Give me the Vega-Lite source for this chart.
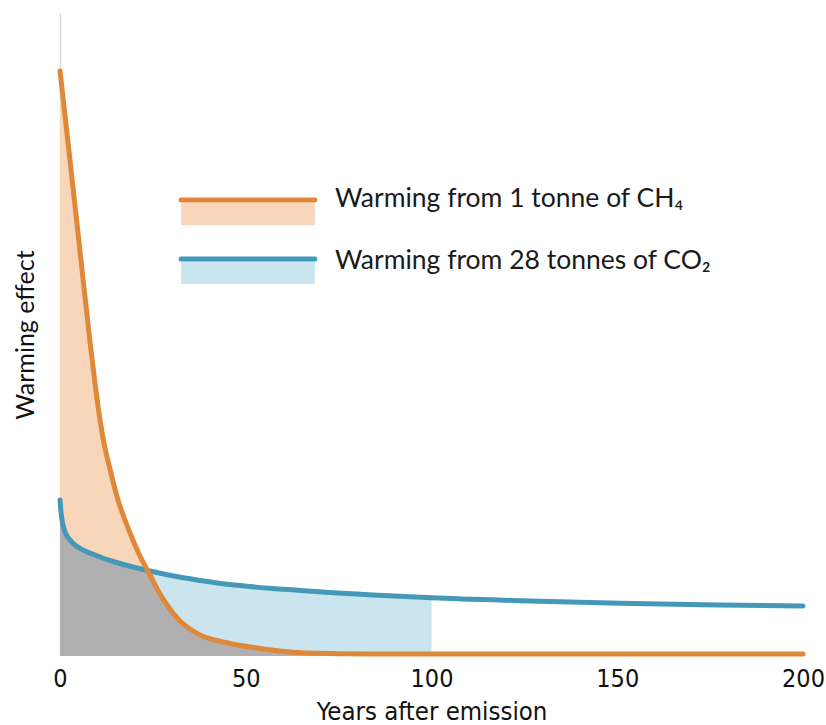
{
  "$schema": "https://vega.github.io/schema/vega-lite/v6.json",
  "width": 743,
  "height": 643,
  "autosize": {"type": "none"},
  "padding": {"left": 60, "top": 13, "right": 23, "bottom": 69},
  "background": "white",
  "config": {"view": {"stroke": null}, "font": "Lato"},
  "datasets": {
    "ch4": [
      {"year": 0, "value": 90.98},
      {"year": 2.69, "value": 77.14},
      {"year": 5.38, "value": 62.98},
      {"year": 8.08, "value": 48.83},
      {"year": 9.42, "value": 42.46},
      {"year": 10.77, "value": 36.7},
      {"year": 12.11, "value": 32.35},
      {"year": 13.46, "value": 29.08},
      {"year": 15.61, "value": 24.26},
      {"year": 17.5, "value": 21.15},
      {"year": 18.84, "value": 19.13},
      {"year": 21.53, "value": 15.55},
      {"year": 24.23, "value": 12.6},
      {"year": 26.92, "value": 9.64},
      {"year": 29.61, "value": 7.31},
      {"year": 32.3, "value": 5.44},
      {"year": 34.99, "value": 4.2},
      {"year": 37.69, "value": 3.27},
      {"year": 43.88, "value": 2.18},
      {"year": 53.03, "value": 1.24},
      {"year": 66.48, "value": 0.47},
      {"year": 84.25, "value": 0.31},
      {"year": 100, "value": 0.31},
      {"year": 200, "value": 0.31}
    ],
    "co2": [
      {"year": 0, "value": 24.26},
      {"year": 0.27, "value": 22.39},
      {"year": 0.54, "value": 21.15},
      {"year": 1.08, "value": 19.75},
      {"year": 1.88, "value": 18.66},
      {"year": 2.69, "value": 18.04},
      {"year": 4.04, "value": 17.26},
      {"year": 6.19, "value": 16.49},
      {"year": 8.08, "value": 16.02},
      {"year": 10.77, "value": 15.4},
      {"year": 14.8, "value": 14.62},
      {"year": 19.65, "value": 13.84},
      {"year": 24.23, "value": 13.22},
      {"year": 29.61, "value": 12.55},
      {"year": 37.69, "value": 11.75},
      {"year": 48.45, "value": 10.95},
      {"year": 64.6, "value": 10.2},
      {"year": 84.25, "value": 9.5},
      {"year": 100, "value": 9.05},
      {"year": 123.8, "value": 8.6},
      {"year": 150.7, "value": 8.2},
      {"year": 177.7, "value": 7.95},
      {"year": 200, "value": 7.78}
    ],
    "both": [
      {"year": 0, "value": 24.26},
      {"year": 0.27, "value": 22.39},
      {"year": 0.54, "value": 21.15},
      {"year": 1.08, "value": 19.75},
      {"year": 1.88, "value": 18.66},
      {"year": 2.69, "value": 18.04},
      {"year": 4.04, "value": 17.26},
      {"year": 6.19, "value": 16.49},
      {"year": 8.08, "value": 16.02},
      {"year": 10.77, "value": 15.4},
      {"year": 14.8, "value": 14.62},
      {"year": 19.65, "value": 13.84},
      {"year": 23.6, "value": 13.35},
      {"year": 24.23, "value": 12.6},
      {"year": 26.92, "value": 9.64},
      {"year": 29.61, "value": 7.31},
      {"year": 32.3, "value": 5.44},
      {"year": 34.99, "value": 4.2},
      {"year": 37.69, "value": 3.27},
      {"year": 43.88, "value": 2.18},
      {"year": 53.03, "value": 1.24},
      {"year": 66.48, "value": 0.47},
      {"year": 84.25, "value": 0.31},
      {"year": 100, "value": 0.31}
    ]
  },
  "layer": [
    {
      "data": {"name": "ch4"},
      "transform": [{"filter": "datum.year <= 40"}],
      "mark": {"type": "area", "color": "#f7d6b9", "interpolate": "monotone"},
      "encoding": {
        "x": {
          "field": "year", "type": "quantitative",
          "scale": {"domain": [0, 200], "nice": false},
          "axis": {
            "title": "Years after emission", "values": [0, 50, 100, 150, 200],
            "domain": false, "ticks": false, "grid": false, "labelFlush": false,
            "labelFont": "DejaVu Sans Condensed, Roboto, sans-serif", "labelFontSize": 25, "labelColor": "#111111", "labelPadding": 10,
            "titleFont": "DejaVu Sans Condensed, Roboto, sans-serif", "titleFontSize": 25.5, "titleFontWeight": "normal", "titleColor": "#111111", "titlePadding": 8
          }
        },
        "y": {
          "field": "value", "type": "quantitative",
          "scale": {"domain": [0, 100], "nice": false},
          "axis": {
            "title": "Warming effect", "labels": false, "ticks": false, "grid": false,
            "domain": true, "domainColor": "#dcdcdc", "domainWidth": 1.5,
            "titleFont": "Lato", "titleFontSize": 25, "titleFontWeight": "normal", "titleColor": "#111111", "titlePadding": 22
          }
        }
      }
    },
    {
      "data": {"name": "co2"},
      "transform": [{"filter": "datum.year <= 100"}],
      "mark": {"type": "area", "color": "#cae5ee", "interpolate": "monotone"},
      "encoding": {
        "x": {"field": "year", "type": "quantitative"},
        "y": {"field": "value", "type": "quantitative"}
      }
    },
    {
      "data": {"name": "both"},
      "mark": {"type": "area", "color": "#b0b0b0", "interpolate": "monotone"},
      "encoding": {
        "x": {"field": "year", "type": "quantitative"},
        "y": {"field": "value", "type": "quantitative"}
      }
    },
    {
      "data": {"name": "co2"},
      "mark": {"type": "line", "color": "#4499b8", "strokeWidth": 5, "strokeCap": "round", "interpolate": "monotone"},
      "encoding": {
        "x": {"field": "year", "type": "quantitative"},
        "y": {"field": "value", "type": "quantitative"}
      }
    },
    {
      "data": {"name": "ch4"},
      "mark": {"type": "line", "color": "#e0883a", "strokeWidth": 5, "strokeCap": "round", "interpolate": "monotone"},
      "encoding": {
        "x": {"field": "year", "type": "quantitative"},
        "y": {"field": "value", "type": "quantitative"}
      }
    },
    {
      "data": {"values": [{}]},
      "mark": {"type": "rect", "color": "#f7d6b9"},
      "encoding": {
        "x": {"datum": 32.6, "type": "quantitative"},
        "x2": {"datum": 68.6},
        "y": {"datum": 70.45, "type": "quantitative"},
        "y2": {"datum": 67.0}
      }
    },
    {
      "data": {"values": [{}]},
      "mark": {"type": "rule", "color": "#e0883a", "strokeWidth": 5, "strokeCap": "round"},
      "encoding": {
        "x": {"datum": 32.6, "type": "quantitative"},
        "x2": {"datum": 68.6},
        "y": {"datum": 70.9, "type": "quantitative"}
      }
    },
    {
      "data": {"values": [{}]},
      "mark": {"type": "rect", "color": "#cae5ee"},
      "encoding": {
        "x": {"datum": 32.6, "type": "quantitative"},
        "x2": {"datum": 68.6},
        "y": {"datum": 61.3, "type": "quantitative"},
        "y2": {"datum": 57.85}
      }
    },
    {
      "data": {"values": [{}]},
      "mark": {"type": "rule", "color": "#4499b8", "strokeWidth": 5, "strokeCap": "round"},
      "encoding": {
        "x": {"datum": 32.6, "type": "quantitative"},
        "x2": {"datum": 68.6},
        "y": {"datum": 61.75, "type": "quantitative"}
      }
    },
    {
      "data": {"values": [{}]},
      "mark": {"type": "text", "align": "left", "baseline": "alphabetic", "font": "Lato", "fontSize": 26.5, "color": "#1a1a1a"},
      "encoding": {
        "x": {"datum": 74.0, "type": "quantitative"},
        "y": {"datum": 69.83, "type": "quantitative"},
        "text": {"value": "Warming from 1 tonne of CH₄"}
      }
    },
    {
      "data": {"values": [{}]},
      "mark": {"type": "text", "align": "left", "baseline": "alphabetic", "font": "Lato", "fontSize": 26.5, "color": "#1a1a1a"},
      "encoding": {
        "x": {"datum": 74.0, "type": "quantitative"},
        "y": {"datum": 60.19, "type": "quantitative"},
        "text": {"value": "Warming from 28 tonnes of CO₂"}
      }
    }
  ]
}
